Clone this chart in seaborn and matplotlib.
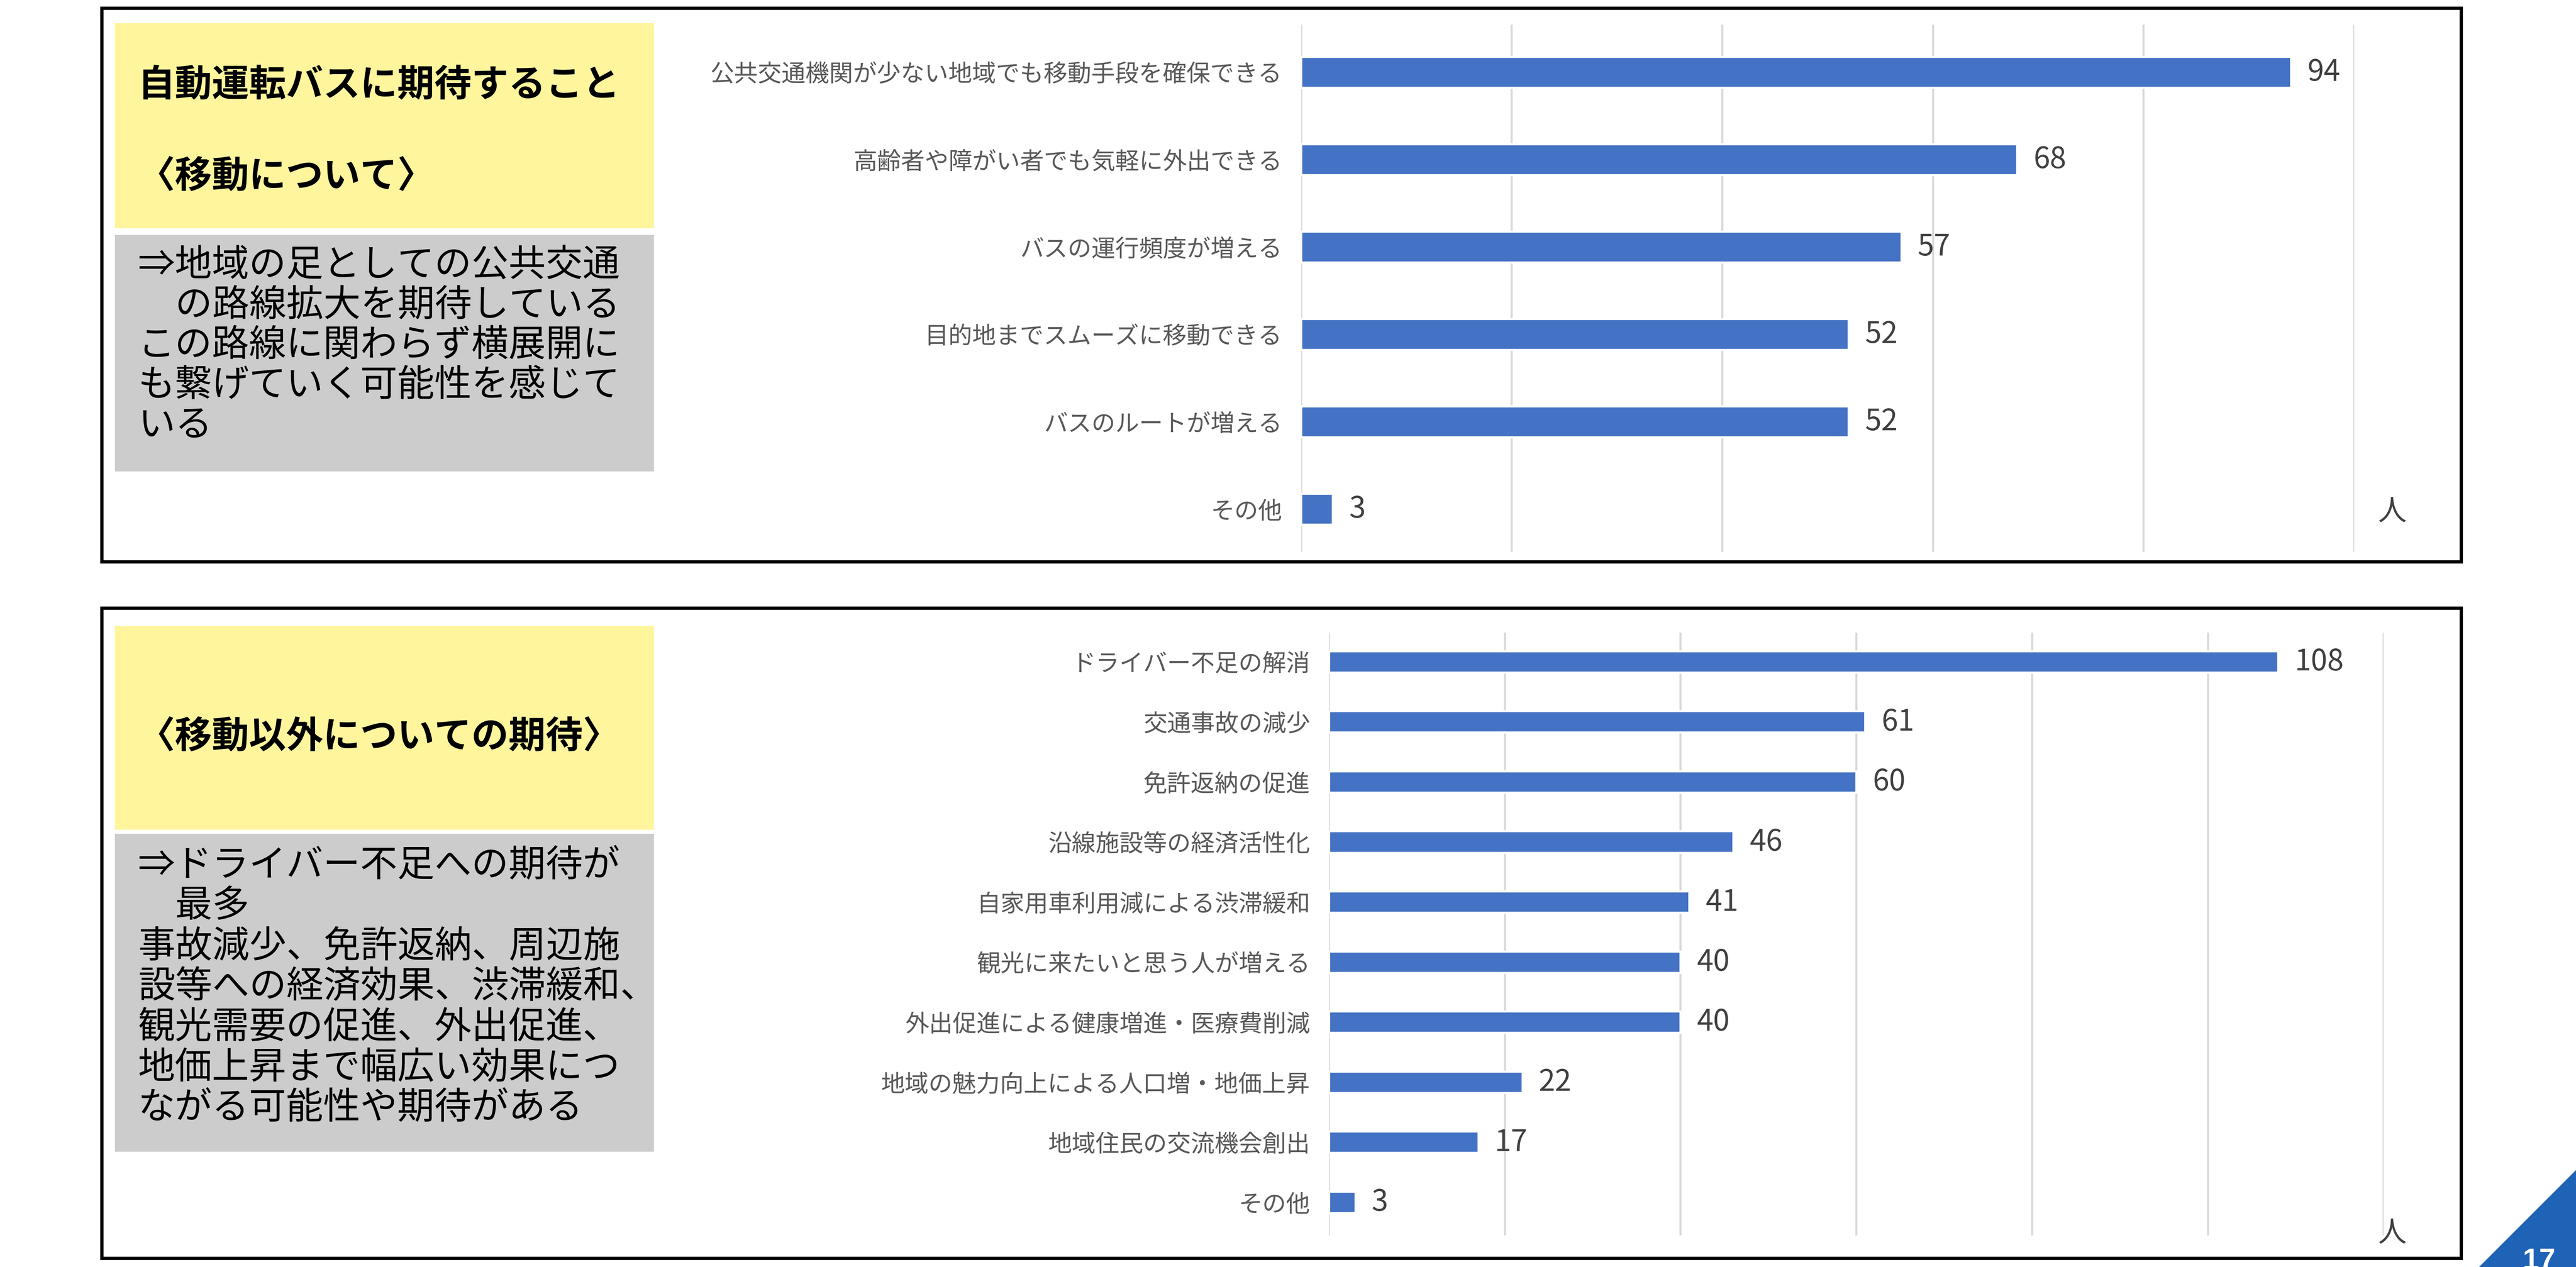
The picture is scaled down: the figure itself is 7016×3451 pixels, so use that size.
import matplotlib
matplotlib.use('Agg')
import matplotlib.pyplot as plt
import seaborn as sns
import pandas as pd
from matplotlib.patches import Rectangle, Polygon

# ---------------- data ----------------
top_categories = [
    "公共交通機関が少ない地域でも移動手段を確保できる",
    "高齢者や障がい者でも気軽に外出できる",
    "バスの運行頻度が増える",
    "目的地までスムーズに移動できる",
    "バスのルートが増える",
    "その他",
]
top_values = [94, 68, 57, 52, 52, 3]

bottom_categories = [
    "ドライバー不足の解消",
    "交通事故の減少",
    "免許返納の促進",
    "沿線施設等の経済活性化",
    "自家用車利用減による渋滞緩和",
    "観光に来たいと思う人が増える",
    "外出促進による健康増進・医療費削減",
    "地域の魅力向上による人口増・地価上昇",
    "地域住民の交流機会創出",
    "その他",
]
bottom_values = [108, 61, 60, 46, 41, 40, 40, 22, 17, 3]

top_title = ["自動運転バスに期待すること", "〈移動について〉"]
top_note = [
    "⇒地域の足としての公共交通",
    "　の路線拡大を期待している",
    "この路線に関わらず横展開に",
    "も繋げていく可能性を感じて",
    "いる",
]
bottom_title = ["〈移動以外についての期待〉"]
bottom_note = [
    "⇒ドライバー不足への期待が",
    "　最多",
    "事故減少、免許返納、周辺施",
    "設等への経済効果、渋滞緩和、",
    "観光需要の促進、外出促進、",
    "地価上昇まで幅広い効果につ",
    "ながる可能性や期待がある",
]
unit_label = "人"
page_number = "17"

# ---------------- style ----------------
sns.set_theme(style="white")
plt.rcParams['font.family'] = ['Noto Sans CJK JP', 'DejaVu Sans']

BAR = "#4472C4"
GRID = "#D9D9D9"
YELLOW = "#FFF59D"
GRAY = "#CCCCCC"

W, H = 7016, 3451
DPI = 400
fig = plt.figure(figsize=(W / DPI, H / DPI), dpi=DPI)
fig.patch.set_facecolor("white")
S = W / 1568.0


def fx(d):
    return d * S / W


def fy(d):
    return 1 - d * S / H


def frect(x0, y0, x1, y1, **kw):
    r = Rectangle((fx(x0), fy(y1)), fx(x1) - fx(x0), fy(y0) - fy(y1),
                  transform=fig.transFigure, **kw)
    fig.patches.append(r)


# panel borders
frect(62, 5, 1498, 342, fill=False, ec="black", lw=1.6, zorder=5)
frect(62, 370, 1498, 766, fill=False, ec="black", lw=1.6, zorder=5)

# coloured boxes
frect(70, 14, 398, 139, fc=YELLOW, ec="none", zorder=1)
frect(70, 143, 398, 287, fc=GRAY, ec="none", zorder=1)
frect(70, 381, 398, 505, fc=YELLOW, ec="none", zorder=1)
frect(70, 507.5, 398, 701, fc=GRAY, ec="none", zorder=1)

FS_BOX = 18.2
fig.text(fx(84), fy(52), top_title[0], fontsize=FS_BOX, fontweight="bold",
         va="center", ha="left", color="black")
fig.text(fx(84), fy(107.5), top_title[1], fontsize=FS_BOX, fontweight="bold",
         va="center", ha="left", color="black")
for i, line in enumerate(top_note):
    fig.text(fx(84), fy(161.5 + i * 24.4), line, fontsize=FS_BOX,
             va="center", ha="left", color="black")

fig.text(fx(84), fy(448.5), bottom_title[0], fontsize=FS_BOX, fontweight="bold",
         va="center", ha="left", color="black")
for i, line in enumerate(bottom_note):
    fig.text(fx(84), fy(527 + i * 24.6), line, fontsize=FS_BOX,
             va="center", ha="left", color="black")


def make_chart(left, right, top, bottom, cats, vals, xmax, ylim):
    ax = fig.add_axes([fx(left), fy(bottom), fx(right) - fx(left), fy(top) - fy(bottom)])
    df = pd.DataFrame({"cat": cats, "val": vals})
    sns.barplot(data=df, x="val", y="cat", orient="h", color=BAR, width=0.355,
                saturation=1, ax=ax, zorder=3)
    ax.set_xlim(0, xmax)
    ax.set_ylim(*ylim)
    ax.set_xticks(range(0, xmax + 1, 20))
    ax.xaxis.grid(True, color=GRID, lw=1.0, zorder=0)
    ax.yaxis.grid(False)
    ax.set_axisbelow(True)
    for sp in ax.spines.values():
        sp.set_visible(False)
    ax.tick_params(axis="x", labelbottom=False, length=0)
    ax.tick_params(axis="y", length=0, pad=9.3, labelsize=11.7, labelcolor="#595959")
    ax.set_xlabel("")
    ax.set_ylabel("")
    ax.patch.set_alpha(0)
    ax.bar_label(ax.containers[0], fmt="%d", padding=8, fontsize=14.5, color="#404040")
    return ax


make_chart(792, 1433, 15, 336, top_categories, top_values, 100, (5.49, -0.545))
make_chart(809, 1451, 385, 752, bottom_categories, bottom_values, 120, (9.55, -0.49))

fig.text(fx(1456), fy(312), unit_label, fontsize=14, color="#404040", ha="center", va="center")
fig.text(fx(1456), fy(751), unit_label, fontsize=14, color="#404040", ha="center", va="center")

# page number corner
tri = Polygon([(6752 / W, 0), (1, 1 - 3187 / H), (1, 0)], closed=True,
              transform=fig.transFigure, fc="#1F63B6", ec="none", zorder=2)
fig.patches.append(tri)
fig.text(6915 / W, 1 - 3398 / H, page_number, fontsize=14.4, fontweight="bold",
         color="white", ha="center", va="top", family=["Liberation Sans", "DejaVu Sans"])

fig.savefig("out.png", dpi=DPI, facecolor="white")
